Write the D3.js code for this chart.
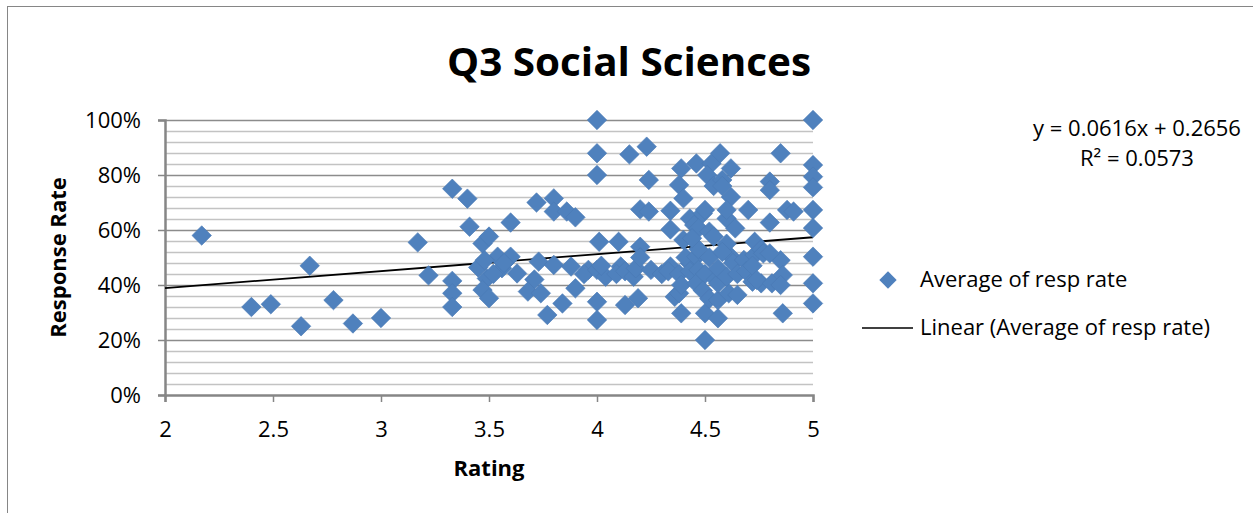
<!DOCTYPE html>
<html>
<head>
<meta charset="utf-8">
<script src="https://cdn.jsdelivr.net/npm/d3@7"></script>
<style>
  body { margin: 0; background: #fff; }
  text { font-family: 'Open Sans', sans-serif; fill: #000; }
</style>
</head>
<body>
<script>
// rating (x) and average response rate (y)
const ratings = [
  2.17, 2.40, 2.49, 2.63, 2.67, 2.78, 2.87, 3.00, 3.17, 3.22,
  3.33, 3.33, 3.33, 3.33, 3.40, 3.41, 3.45, 3.47, 3.50, 3.54,
  3.56, 3.49, 3.47, 3.50, 3.52, 3.48, 3.60, 3.60, 3.63, 3.57,
  3.72, 3.73, 3.71, 3.68, 3.74, 3.77, 3.80, 3.80, 3.86, 3.90,
  3.80, 3.84, 3.88, 3.90, 3.96, 3.94, 4.00, 4.00, 4.00, 4.01,
  4.00, 4.04, 4.00, 4.00, 4.02, 4.10, 4.15, 4.11, 4.09, 4.13,
  4.13, 4.17, 4.23, 4.24, 4.20, 4.24, 4.20, 4.18, 4.19, 4.25,
  4.20, 4.30, 4.34, 4.34, 4.34, 4.36, 4.33, 4.38, 4.39, 4.38,
  4.40, 4.43, 4.40, 4.43, 4.39, 4.38, 4.39, 4.41, 4.45, 4.43,
  4.46, 4.53, 4.51, 4.54, 4.49, 4.47, 4.52, 4.54, 4.46, 4.47,
  4.46, 4.50, 4.50, 4.47, 4.50, 4.52, 4.50, 4.49, 4.52, 4.55,
  4.44, 4.57, 4.62, 4.58, 4.58, 4.62, 4.60, 4.60, 4.64, 4.56,
  4.56, 4.56, 4.61, 4.62, 4.65, 4.56, 4.60, 4.63, 4.58, 4.60,
  4.65, 4.70, 4.68, 4.73, 4.69, 4.72, 4.76, 4.73, 4.76, 4.72,
  4.74, 4.80, 4.80, 4.80, 4.85, 4.88, 4.91, 4.81, 4.85, 4.86,
  4.85, 4.86, 4.77, 4.80, 5.00, 5.00, 5.00, 5.00, 5.00, 5.00,
  5.00, 5.00, 5.00
];
const respRates = [
  0.58, 0.32, 0.33, 0.25, 0.47, 0.345, 0.26, 0.28, 0.555, 0.435,
  0.75, 0.415, 0.37, 0.32, 0.714, 0.612, 0.464, 0.551, 0.576, 0.503,
  0.461, 0.424, 0.382, 0.352, 0.44, 0.49, 0.627, 0.503, 0.442, 0.48,
  0.70, 0.485, 0.42, 0.376, 0.37, 0.291, 0.715, 0.667, 0.667, 0.646,
  0.473, 0.333, 0.467, 0.388, 0.455, 0.44, 1.00, 0.879, 0.80, 0.557,
  0.455, 0.43, 0.339, 0.273, 0.47, 0.557, 0.875, 0.467, 0.44, 0.327,
  0.45, 0.43, 0.903, 0.782, 0.675, 0.667, 0.539, 0.461, 0.352, 0.455,
  0.50, 0.44, 0.67, 0.602, 0.467, 0.357, 0.45, 0.44, 0.824, 0.764,
  0.715, 0.642, 0.564, 0.479, 0.297, 0.37, 0.40, 0.50, 0.618, 0.45,
  0.842, 0.842, 0.80, 0.76, 0.66, 0.606, 0.594, 0.576, 0.503, 0.455,
  0.406, 0.20, 0.297, 0.53, 0.673, 0.50, 0.44, 0.38, 0.35, 0.42,
  0.57, 0.879, 0.824, 0.782, 0.76, 0.72, 0.642, 0.673, 0.606, 0.279,
  0.345, 0.406, 0.37, 0.503, 0.364, 0.46, 0.55, 0.48, 0.52, 0.43,
  0.44, 0.673, 0.491, 0.509, 0.45, 0.412, 0.406, 0.557, 0.53, 0.47,
  0.418, 0.776, 0.745, 0.627, 0.879, 0.673, 0.667, 0.406, 0.49, 0.436,
  0.40, 0.297, 0.515, 0.515, 1.00, 0.836, 0.794, 0.755, 0.673, 0.607,
  0.503, 0.406, 0.333
];

// linear trend as printed on the chart
const trendSlope = 0.0616;
const trendIntercept = 0.2656;
const trendLabel = 'y = 0.0616x + 0.2656';
const r2Label = 'R² = 0.0573';

const xTicks = [2, 2.5, 3, 3.5, 4, 4.5, 5];
const yTicks = [0, 0.2, 0.4, 0.6, 0.8, 1];
const seriesName = 'Average of resp rate';
const trendName = 'Linear (Average of resp rate)';

const points = ratings.map((r, i) => ({ x: r, y: respRates[i] }));

const W = 1253, H = 513;
const svg = d3.select('body').append('svg')
    .attr('width', W)
    .attr('height', H);

svg.append('rect')
    .attr('width', W).attr('height', H)
    .attr('fill', '#fff');

// outer chart frame (runs off the right/bottom edge)
svg.append('rect')
    .attr('x', 7.5).attr('y', 6.5)
    .attr('width', 1400).attr('height', 700)
    .attr('fill', 'none')
    .attr('stroke', '#868686');

const x = d3.scaleLinear().domain([2, 5]).range([165, 813]);
const y = d3.scaleLinear().domain([0, 1]).range([395, 120]);

// minor gridlines every 4%
const minor = d3.range(1, 25).map(i => i * 0.04).filter(v => Math.round(v * 100) % 20 !== 0);
svg.append('g').selectAll('line')
    .data(minor)
    .enter()
  .append('line')
    .attr('x1', x(2)).attr('x2', x(5))
    .attr('y1', d => Math.round(y(d)) + 0.5)
    .attr('y2', d => Math.round(y(d)) + 0.5)
    .attr('stroke', '#c3c3c3')
    .attr('stroke-width', 1.5);

// major gridlines
svg.append('g').selectAll('line')
    .data(yTicks.slice(1))
    .enter()
  .append('line')
    .attr('x1', x(2)).attr('x2', x(5))
    .attr('y1', d => Math.round(y(d)) + 0.5)
    .attr('y2', d => Math.round(y(d)) + 0.5)
    .attr('stroke', '#8c8c8c')
    .attr('stroke-width', 1.5);

// axes
const xAxis = svg.append('g')
    .attr('transform', `translate(0,${y(0)})`)
    .call(d3.axisBottom(x).tickValues(xTicks).tickSize(7).tickPadding(19)
      .tickFormat(d => d));
const yAxis = svg.append('g')
    .attr('transform', `translate(${x(2)},0)`)
    .call(d3.axisLeft(y).tickValues(yTicks).tickSize(7).tickPadding(17)
      .tickFormat(d3.format('.0%')));

[xAxis, yAxis].forEach(g => {
  g.select('.domain').attr('stroke', '#868686').attr('stroke-width', 2.5);
  g.selectAll('.tick line').attr('stroke', '#868686').attr('stroke-width', 1.5);
  g.selectAll('.tick text')
      .attr('fill', '#000')
      .style('font-family', "'Open Sans', sans-serif")
      .style('font-size', '22px');
});

// trend line
svg.append('line')
    .attr('x1', x(2)).attr('y1', y(trendSlope * 2 + trendIntercept))
    .attr('x2', x(5)).attr('y2', y(trendSlope * 5 + trendIntercept))
    .attr('stroke', '#000')
    .attr('stroke-width', 1.8);

// markers
const diamond = d3.symbol().type(d3.symbolSquare).size(190);
svg.append('g').selectAll('path')
    .data(points)
    .enter()
  .append('path')
    .attr('d', diamond)
    .attr('transform', d => `translate(${x(d.x)},${y(d.y)}) rotate(45)`)
    .attr('fill', '#4f81bd')
    .attr('stroke', '#4a7ab5')
    .attr('stroke-width', 0.6);

// titles
svg.append('text')
    .attr('x', 629).attr('y', 76)
    .attr('text-anchor', 'middle')
    .style('font-size', '40px')
    .style('font-weight', 'bold')
    .attr('textLength', 364)
    .attr('lengthAdjust', 'spacingAndGlyphs')
    .text('Q3 Social Sciences');

svg.append('text')
    .attr('x', (x(2) + x(5)) / 2).attr('y', 476)
    .attr('text-anchor', 'middle')
    .style('font-size', '22px')
    .style('font-weight', 'bold')
    .text('Rating');

svg.append('text')
    .attr('transform', `translate(66,${(y(0) + y(1)) / 2}) rotate(-90)`)
    .attr('text-anchor', 'middle')
    .style('font-size', '22px')
    .style('font-weight', 'bold')
    .text('Response Rate');

// trend equation
svg.append('text')
    .attr('x', 1137).attr('y', 136)
    .attr('text-anchor', 'middle')
    .style('font-size', '22px')
    .text(trendLabel);
svg.append('text')
    .attr('x', 1137).attr('y', 166)
    .attr('text-anchor', 'middle')
    .style('font-size', '22px')
    .text(r2Label);

// legend
const legend = svg.append('g');
legend.append('path')
    .attr('d', d3.symbol().type(d3.symbolSquare).size(150))
    .attr('transform', 'translate(888,280) rotate(45)')
    .attr('fill', '#4f81bd');
legend.append('text')
    .attr('x', 920).attr('y', 287)
    .style('font-size', '22px')
    .text(seriesName);
legend.append('line')
    .attr('x1', 862).attr('x2', 913)
    .attr('y1', 328).attr('y2', 328)
    .attr('stroke', '#000')
    .attr('stroke-width', 1.5);
legend.append('text')
    .attr('x', 920).attr('y', 335)
    .style('font-size', '22px')
    .text(trendName);
</script>
</body>
</html>
